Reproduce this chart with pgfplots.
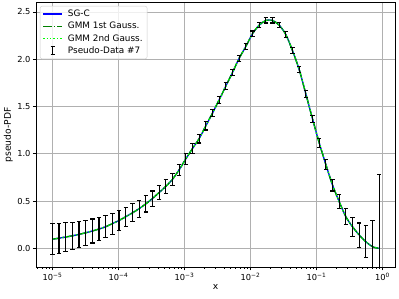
\documentclass[border=0pt]{standalone}
\usepackage{pgfplots}
\pgfplotsset{compat=1.18}
\usepackage{pgfplotstable}
\usepackage{fontspec}
\setmainfont{DejaVu Sans}
\definecolor{gdark}{RGB}{0,128,0}
\definecolor{glime}{RGB}{0,255,0}
\definecolor{gridc}{RGB}{176,176,176}
\definecolor{legc}{RGB}{204,204,204}
\pgfplotstableread{
x y e
1.000e-5 0.097 0.165
1.262e-5 0.108 0.158
1.593e-5 0.120 0.151
2.010e-5 0.133 0.145
2.537e-5 0.148 0.139
3.202e-5 0.165 0.133
4.042e-5 0.184 0.127
5.101e-5 0.205 0.121
6.438e-5 0.229 0.116
8.126e-5 0.262 0.111
1.026e-4 0.295 0.106
1.295e-4 0.335 0.100
1.634e-4 0.375 0.095
2.063e-4 0.420 0.090
2.603e-4 0.470 0.085
3.286e-4 0.527 0.080
4.147e-4 0.590 0.075
5.234e-4 0.655 0.070
6.606e-4 0.730 0.065
8.338e-4 0.830 0.060
1.052e-3 0.945 0.055
1.328e-3 1.055 0.050
1.676e-3 1.160 0.046
2.116e-3 1.295 0.043
2.670e-3 1.430 0.040
3.370e-3 1.570 0.037
4.254e-3 1.715 0.035
5.369e-3 1.860 0.033
6.777e-3 2.010 0.031
8.553e-3 2.135 0.030
1.079e-2 2.270 0.029
1.362e-2 2.360 0.028
1.720e-2 2.410 0.027
2.170e-2 2.410 0.027
2.739e-2 2.360 0.028
3.457e-2 2.260 0.029
4.363e-2 2.090 0.031
5.507e-2 1.890 0.033
6.951e-2 1.632 0.036
8.773e-2 1.368 0.040
0.1107 1.116 0.045
0.1397 0.886 0.052
0.1763 0.669 0.062
0.2226 0.493 0.074
0.2809 0.334 0.085
0.3545 0.228 0.100
0.4475 0.141 0.127
0.5648 0.070 0.170
0.7128 0.017 0.280
0.8994 0.000 0.780
}\data
\newcommand{\tl}[1]{10\raisebox{0.6ex}{\fontsize{5.9}{7}\selectfont #1}}
\begin{document}
\fontsize{9.2}{11}\selectfont
\begin{tikzpicture}
\useasboundingbox (0,0) rectangle (399bp,299bp);
\begin{axis}[
  at={(36bp,31.7bp)}, anchor=south west,
  scale only axis, width=359bp, height=264.8bp,
  xmode=log, xmin=5.66e-6, xmax=1.557, ymin=-0.2, ymax=2.6,
  xtick={1e-5,1e-4,1e-3,1e-2,1e-1,1},
  xticklabels={\tl{−5},\tl{−4},\tl{−3},\tl{−2},\tl{−1},\tl{0}},
  minor xtick={6e-6,7e-6,8e-6,9e-6,2e-5,3e-5,4e-5,5e-5,6e-5,7e-5,8e-5,9e-5,2e-4,3e-4,4e-4,5e-4,6e-4,7e-4,8e-4,9e-4,2e-3,3e-3,4e-3,5e-3,6e-3,7e-3,8e-3,9e-3,2e-2,3e-2,4e-2,5e-2,6e-2,7e-2,8e-2,9e-2,0.2,0.3,0.4,0.5,0.6,0.7,0.8,0.9},
  ytick={0,0.5,1,1.5,2,2.5},
  tick label style={font=\fontsize{8.3}{10}\selectfont},
  yticklabel style={inner xsep=2.2bp, /pgf/number format/.cd, fixed, fixed zerofill, precision=1, assume math mode=true},
  xticklabel style={inner ysep=2.5bp},
  tick pos=left, tick align=outside,
  major tick length=3.2bp, minor tick length=1.7bp,
  every tick/.style={black, line width=0.7bp},
  axis line style={line width=0.7bp},
  grid=major, major grid style={gridc, line width=0.7bp},
  xlabel={x}, ylabel={pseudo-PDF},
  xlabel style={yshift=1.5bp},
  ylabel style={yshift=-1bp},
  legend cell align=left,
  legend style={at={(0.011,0.987)}, anchor=north west, draw=legc, rounded corners=2bp,
    fill=white, fill opacity=0.8, text opacity=1, font=\fontsize{8.9}{10.6}\selectfont,
    row sep=0.2bp, column sep=3bp, inner xsep=2.5bp, inner ysep=2bp},
]
\addplot[blue, line width=1.3bp, smooth, legend image code/.code={\draw[blue, line width=1.3bp] (0bp,0bp)--(19bp,0bp);}] table[x=x,y=y]{\data};
\addlegendentry{SG-C}
\addplot[gdark, line width=1.3bp, smooth, dash pattern=on 8.3bp off 2.1bp on 1.3bp off 2.1bp, legend image code/.code={\draw[gdark, line width=1.3bp, dash pattern=on 8.3bp off 2.1bp on 1.3bp off 2.1bp] (0bp,0bp)--(19bp,0bp);}] table[x=x,y=y]{\data};
\addlegendentry{GMM 1st Gauss.}
\addplot[glime, line width=1.3bp, smooth, dash pattern=on 1.3bp off 2.1bp, legend image code/.code={\draw[glime, line width=1.3bp, dash pattern=on 1.3bp off 2.1bp] (0bp,0bp)--(19bp,0bp);}] table[x=x,y=y]{\data};
\addlegendentry{GMM 2nd Gauss.}
\addplot[draw=none, mark=none,
  legend image code/.code={\draw[black, line width=1.1bp] (9.5bp,-4bp)--(9.5bp,4bp) (7.3bp,-4bp)--(11.7bp,-4bp) (7.3bp,4bp)--(11.7bp,4bp);},
  error bars/.cd, y dir=both, y explicit,
  error bar style={draw=black, line width=1.1bp, solid},
  error mark=-, error mark options={draw=black, line width=1.1bp, mark size=2.2bp, rotate=90}
] table[x=x,y=y,y error=e]{\data};
\addlegendentry{Pseudo-Data \#7}
\end{axis}
\end{tikzpicture}
\end{document}
